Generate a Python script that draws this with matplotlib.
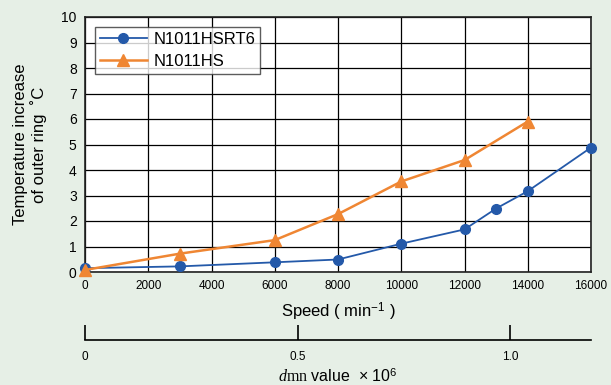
import matplotlib
matplotlib.use("Agg")
import matplotlib.pyplot as plt

plt.rcParams["font.family"] = ["Liberation Sans", "DejaVu Sans"]
plt.rcParams["mathtext.fontset"] = "custom"
plt.rcParams["mathtext.rm"] = "Liberation Serif"
plt.rcParams["mathtext.it"] = "Liberation Serif:italic"
plt.rcParams["mathtext.sf"] = "Liberation Sans"

BG = "#e6efe6"
BLUE = "#2459a9"
ORANGE = "#ef8633"

# speed (min^-1) vs outer ring temperature increase (deg C)
rt6_speed = [0, 3000, 6000, 8000, 10000, 12000, 13000, 14000, 16000]
rt6_temp = [0.15, 0.22, 0.38, 0.49, 1.11, 1.67, 2.49, 3.17, 4.88]
hs_speed = [0, 3000, 6000, 8000, 10000, 12000, 14000]
hs_temp = [0.08, 0.72, 1.25, 2.27, 3.55, 4.39, 5.9]

x_ticks = list(range(0, 16001, 2000))
y_ticks = list(range(0, 11))
dmn_ticks = [0, 0.5, 1.0]
dmn_labels = ["0", "0.5", "1.0"]
DM = 74.4  # mm, pitch diameter implied by the dmn scale

fig = plt.figure(figsize=(6.11, 3.85), dpi=100, facecolor=BG)
ax = fig.add_axes([85 / 611, 1 - 272 / 385, 506 / 611, 255 / 385])
ax.set_facecolor("white")

ax.plot(rt6_speed, rt6_temp, "-o", color=BLUE, lw=1.3, ms=7, label="N1011HSRT6", zorder=4, clip_on=False)
ax.plot(hs_speed, hs_temp, "-^", color=ORANGE, lw=1.8, ms=8, label="N1011HS", zorder=5, clip_on=False)

ax.set_xlim(0, 16000)
ax.set_ylim(0, 10)
ax.set_xticks(x_ticks)
ax.set_yticks(y_ticks)
ax.grid(True, color="black", lw=0.9)
ax.set_axisbelow(True)
ax.tick_params(length=0, labelsize=8.5, pad=6)
ax.tick_params(axis="y", labelsize=10, pad=6)
for sp in ax.spines.values():
    sp.set_linewidth(1.2)
    sp.set_color("#222222")

ax.set_xlabel("Speed ( min$^{\\mathsf{-1}}$ )", fontsize=12, labelpad=6)
ax.set_ylabel("Temperature increase\nof outer ring  ˚C", fontsize=12, labelpad=10, linespacing=1.15)

leg = ax.legend(loc="upper left", bbox_to_anchor=(0.02, 0.96), fontsize=12, frameon=True,
                fancybox=False, edgecolor="#333333", borderpad=0.3, handlelength=2.8,
                handletextpad=0.4, labelspacing=0.4, borderaxespad=0)
leg.get_frame().set_linewidth(1.0)

# dmn value scale
ax2 = fig.add_axes([85 / 611, 1 - 340 / 385, 506 / 611, 0.001])
ax2.set_facecolor("none")
ax2.set_xlim(0, 16000 * DM / 1e6)
ax2.set_ylim(0, 1)
for s in ("top", "left", "right"):
    ax2.spines[s].set_visible(False)
ax2.spines["bottom"].set_linewidth(1.2)
ax2.set_yticks([])
ax2.set_xticks(dmn_ticks)
ax2.set_xticklabels(dmn_labels)
ax2.tick_params(axis="x", direction="in", length=11, width=1.2, labelsize=8.5, pad=8)
ax2.set_xlabel("$d\\mathrm{mn}$ value  × 10$^{\\mathsf{6}}$", fontsize=11.5, labelpad=3)

fig.savefig("out.png", dpi=100, facecolor=BG)
